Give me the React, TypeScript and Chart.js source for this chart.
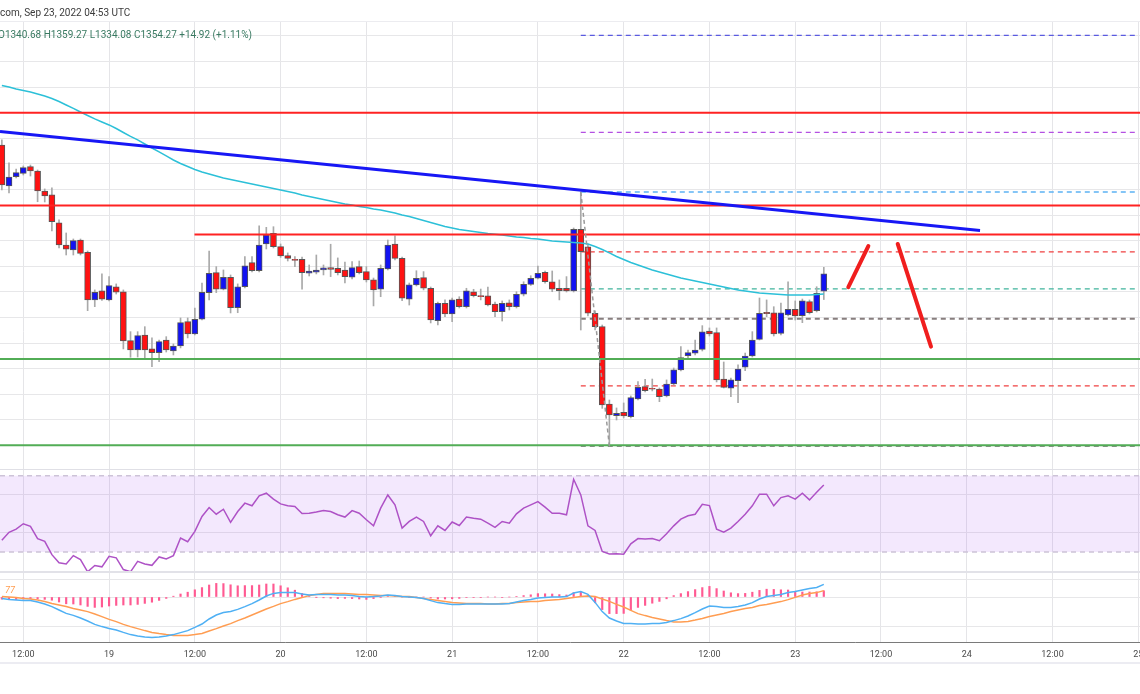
import React, { useEffect, useRef } from "react";
import { Chart, registerables } from "chart.js";

Chart.register(...registerables);

// Hours are counted from Sep 18 2022 00:00 UTC; 1h candles, first visible at 09:00
const FIRST_HOUR = 9;
const FIRST_DAY = 18;
const X_MIN = 8.74;
const X_MAX = 168.24;

const opens = [
  1454.8, 1422.8, 1430.1, 1432.7, 1437.9, 1434.5, 1418.9, 1415.8, 1394.1, 1376.7,
  1372.8, 1380.6, 1371.0, 1333.8, 1340.8, 1333.8, 1344.1, 1340.2, 1302.0, 1294.7,
  1306.4, 1295.5, 1292.6, 1302.5, 1293.9, 1297.8, 1316.8, 1307.2, 1318.7, 1339.5,
  1355.1, 1342.1, 1351.5, 1327.7, 1344.1, 1362.9, 1356.6, 1377.5, 1385.9, 1375.4,
  1368.4, 1365.5, 1365.5, 1354.6, 1355.4, 1357.2, 1359.0, 1358.5, 1357.2, 1351.5,
  1359.8, 1355.9, 1349.4, 1342.1, 1358.0, 1377.5, 1366.3, 1334.3, 1345.5, 1351.2,
  1342.9, 1317.6, 1331.2, 1322.8, 1334.5, 1328.5, 1340.2, 1337.1, 1336.9, 1330.6,
  1324.6, 1331.6, 1328.5, 1338.2, 1346.0, 1350.7, 1355.4, 1348.0, 1342.9, 1342.9,
  1340.8, 1389.0, 1375.2, 1323.4, 1312.9, 1252.5, 1243.4, 1246.0, 1242.6, 1256.4,
  1266.0, 1264.8, 1264.2, 1258.8, 1268.1, 1279.1, 1290.2, 1292.1, 1295.2, 1309.5,
  1308.2, 1272.0, 1264.8, 1270.7, 1281.2, 1290.0, 1303.0, 1324.1, 1323.8, 1307.7,
  1322.0, 1326.5, 1321.5, 1332.4, 1325.4, 1340.68,
];
const highs = [
  1458.8, 1440.8, 1436.1, 1438.4, 1439.2, 1435.3, 1420.5, 1421.3, 1396.3, 1386.1,
  1381.4, 1381.4, 1372.0, 1341.6, 1354.1, 1352.0, 1346.3, 1341.6, 1309.0, 1309.0,
  1312.9, 1304.1, 1302.5, 1305.1, 1299.4, 1319.7, 1319.7, 1327.5, 1347.0, 1372.0,
  1359.8, 1357.2, 1353.3, 1346.3, 1367.6, 1367.6, 1391.6, 1390.5, 1391.0, 1377.5,
  1370.5, 1367.6, 1367.3, 1361.1, 1368.9, 1361.1, 1377.3, 1366.6, 1363.4, 1363.7,
  1364.2, 1359.8, 1350.9, 1361.1, 1380.6, 1383.8, 1367.3, 1347.0, 1356.6, 1355.9,
  1343.9, 1332.2, 1333.8, 1335.3, 1336.3, 1342.9, 1342.1, 1342.3, 1343.9, 1332.2,
  1333.0, 1333.8, 1340.2, 1348.0, 1352.7, 1360.3, 1356.4, 1356.4, 1349.4, 1352.0,
  1390.0, 1418.1, 1377.5, 1325.2, 1314.2, 1255.6, 1249.4, 1253.3, 1258.8, 1269.9,
  1271.8, 1272.0, 1265.0, 1271.3, 1280.6, 1297.3, 1294.7, 1302.5, 1313.7, 1311.9,
  1311.9, 1285.3, 1272.8, 1283.0, 1292.3, 1309.0, 1335.3, 1333.8, 1328.5, 1331.4,
  1348.0, 1333.0, 1334.5, 1333.8, 1344.1, 1359.27,
];
const lows = [
  1419.7, 1417.3, 1429.1, 1431.4, 1430.6, 1410.5, 1410.3, 1387.7, 1374.4, 1368.9,
  1368.9, 1368.9, 1325.4, 1328.5, 1333.4, 1333.0, 1338.4, 1295.5, 1289.0, 1289.2,
  1287.4, 1281.6, 1285.5, 1293.1, 1290.8, 1296.3, 1304.1, 1306.4, 1318.1, 1333.8,
  1339.5, 1341.6, 1323.6, 1323.8, 1343.1, 1355.6, 1355.6, 1373.6, 1374.4, 1367.0,
  1364.2, 1359.8, 1342.1, 1352.5, 1354.1, 1353.3, 1352.0, 1353.3, 1347.0, 1350.2,
  1354.1, 1347.8, 1329.1, 1336.3, 1357.2, 1365.0, 1333.2, 1329.8, 1344.7, 1341.6,
  1315.8, 1314.2, 1320.7, 1316.8, 1327.5, 1327.5, 1336.1, 1333.8, 1329.1, 1320.7,
  1317.3, 1325.9, 1327.5, 1336.9, 1345.1, 1350.2, 1346.8, 1340.2, 1333.8, 1340.0,
  1340.0, 1310.3, 1321.3, 1310.3, 1249.1, 1219.7, 1240.0, 1241.6, 1241.6, 1255.6,
  1261.9, 1262.7, 1254.3, 1258.0, 1267.3, 1278.3, 1288.4, 1290.8, 1293.9, 1305.6,
  1269.7, 1265.0, 1258.2, 1253.5, 1278.5, 1289.2, 1302.5, 1320.7, 1305.6, 1306.4,
  1321.3, 1318.1, 1316.0, 1322.8, 1324.4, 1334.08,
];
const closes = [
  1423.6, 1429.8, 1433.2, 1437.1, 1434.5, 1418.9, 1415.0, 1394.9, 1376.7, 1373.4,
  1380.1, 1370.2, 1333.8, 1339.8, 1334.3, 1344.9, 1339.8, 1301.7, 1294.7, 1305.9,
  1294.7, 1292.6, 1301.2, 1294.7, 1297.8, 1316.0, 1307.2, 1318.7, 1339.8, 1354.6,
  1342.1, 1351.5, 1327.7, 1344.1, 1360.5, 1356.6, 1376.7, 1384.5, 1375.4, 1368.1,
  1366.3, 1364.6, 1355.1, 1356.4, 1357.2, 1358.8, 1357.7, 1355.1, 1352.0, 1359.0,
  1355.1, 1349.4, 1341.6, 1358.5, 1376.7, 1366.3, 1335.1, 1345.5, 1350.7, 1342.9,
  1318.1, 1331.2, 1322.8, 1333.8, 1328.5, 1340.8, 1337.1, 1336.3, 1329.8, 1324.6,
  1331.2, 1328.5, 1338.2, 1346.0, 1350.7, 1354.6, 1348.0, 1342.1, 1341.0, 1340.8,
  1389.0, 1371.5, 1323.4, 1312.9, 1251.7, 1243.9, 1245.2, 1243.1, 1257.4, 1265.5,
  1262.9, 1264.0, 1258.2, 1268.1, 1279.1, 1288.7, 1292.6, 1294.7, 1308.8, 1307.2,
  1271.3, 1265.5, 1271.3, 1279.8, 1290.0, 1302.5, 1323.4, 1323.0, 1307.2, 1323.8,
  1326.5, 1321.3, 1333.0, 1323.8, 1339.0, 1354.27,
];
const movingAverage = [
  1501.3, 1500.2, 1498.6, 1497.4, 1496.3, 1494.7, 1493.1, 1491.2, 1488.8, 1486.1,
  1483.4, 1480.6, 1477.9, 1475.2, 1472.8, 1470.5, 1467.7, 1464.6, 1461.5, 1458.8,
  1455.6, 1452.5, 1449.4, 1446.3, 1443.1, 1440.4, 1438.0, 1435.7, 1433.8, 1432.2,
  1430.6, 1429.1, 1427.9, 1426.7, 1425.5, 1424.4, 1423.2, 1422.0, 1420.9, 1419.7,
  1418.5, 1417.3, 1415.8, 1414.6, 1413.4, 1412.3, 1411.1, 1409.9, 1408.8, 1408.0,
  1406.8, 1406.0, 1404.8, 1404.1, 1402.9, 1401.7, 1400.2, 1399.0, 1397.4, 1395.9,
  1394.3, 1392.7, 1391.2, 1390.0, 1388.8, 1388.0, 1387.3, 1386.5, 1385.7, 1385.1,
  1384.5, 1383.8, 1383.0, 1382.6, 1381.8, 1381.4, 1380.6, 1379.8, 1379.5, 1379.1,
  1378.7, 1378.3, 1377.5, 1375.5, 1373.2, 1370.5, 1367.7, 1365.4, 1363.0, 1361.1,
  1359.1, 1357.2, 1355.6, 1354.1, 1352.5, 1350.9, 1349.8, 1348.6, 1347.4, 1346.3,
  1345.1, 1343.9, 1342.7, 1341.6, 1340.8, 1340.0, 1339.2, 1338.8, 1338.4, 1338.0,
  1337.7, 1337.7, 1337.7, 1337.7, 1338.0, 1338.4,
];
const rsiValues = [
  36.1, 40.3, 42.0, 44.8, 43.4, 37.0, 35.6, 28.6, 24.3, 23.7,
  28.1, 26.0, 19.6, 22.9, 22.2, 27.7, 26.9, 20.8, 19.6, 25.1,
  23.7, 23.0, 27.4, 26.3, 28.1, 37.3, 35.4, 40.8, 48.6, 53.3,
  49.8, 52.4, 45.5, 51.2, 55.6, 54.2, 59.4, 60.8, 57.7, 55.2,
  54.2, 53.8, 50.2, 50.3, 50.9, 51.7, 51.2, 49.5, 48.3, 51.7,
  50.3, 46.9, 43.7, 53.0, 59.9, 54.7, 42.5, 46.0, 48.3, 46.0,
  38.5, 43.7, 41.3, 45.7, 43.9, 48.3, 47.7, 47.2, 45.1, 42.9,
  46.0, 45.1, 50.0, 53.0, 54.7, 56.4, 53.5, 50.3, 50.3, 49.5,
  68.1, 59.9, 43.7, 41.3, 30.3, 29.0, 29.1, 28.8, 34.3, 37.0,
  36.8, 37.0, 35.9, 39.6, 43.7, 47.2, 49.0, 49.8, 55.0, 54.3,
  42.0, 40.4, 42.5, 46.0, 49.8, 54.2, 60.3, 60.3, 54.2, 58.5,
  59.4, 57.7, 60.8, 57.3, 61.3, 65.1,
];
const macdLine = [
  -0.8, -1.3, -1.5, -1.7, -1.8, -2.5, -3.5, -4.8, -6.5, -8.2,
  -9.2, -10.5, -12.0, -13.7, -14.8, -15.7, -16.5, -17.7, -18.8, -19.5,
  -20.0, -20.3, -20.0, -19.5, -18.8, -17.8, -16.8, -15.2, -13.5, -11.0,
  -9.0, -7.8, -7.2, -6.2, -4.8, -3.3, -1.5, 0.5, 1.8, 2.3,
  2.3, 2.2, 1.5, 1.0, 1.2, 1.3, 1.2, 1.0, 1.0, 0.7,
  0.3, 0.0, 0.2, 0.5, 1.0, 0.8, 0.3, 0.0, -0.3, -0.8,
  -1.8, -2.8, -3.3, -3.7, -3.7, -3.5, -3.5, -3.5, -3.5, -3.5,
  -3.5, -3.2, -2.5, -1.8, -1.2, -0.5, -0.2, 0.0, 0.0, 0.2,
  2.0, 2.7, 1.3, -2.7, -7.3, -10.5, -12.0, -13.2, -13.3, -13.5,
  -13.5, -13.3, -13.2, -12.7, -11.8, -10.8, -9.5, -7.8, -6.0, -4.5,
  -4.8, -5.2, -5.2, -4.8, -4.0, -2.8, -1.0, 0.2, 0.8, 1.3,
  2.2, 2.7, 3.5, 4.2, 4.8, 6.3,
];
const signalLine = [
  0.3, 0.0, -0.3, -0.7, -1.0, -1.5, -2.3, -3.2, -4.0, -4.8,
  -5.7, -6.5, -7.3, -8.5, -9.8, -11.2, -12.3, -13.7, -14.8, -15.8,
  -16.8, -17.7, -18.3, -18.8, -19.2, -19.3, -19.2, -18.8, -18.2, -17.0,
  -15.8, -14.5, -13.3, -11.8, -10.5, -9.0, -7.5, -6.0, -4.7, -3.3,
  -2.3, -1.2, -0.3, 0.7, 1.3, 1.7, 1.8, 1.8, 1.7, 1.5,
  1.3, 1.2, 1.0, 0.8, 0.7, 0.5, 0.3, 0.2, -0.3, -0.8,
  -1.3, -1.8, -2.3, -2.8, -3.0, -3.2, -3.2, -3.3, -3.5, -3.5,
  -3.3, -3.2, -2.8, -2.5, -2.3, -2.2, -1.8, -1.5, -1.2, -0.8,
  -0.2, 0.3, 0.5, 0.2, -1.0, -2.2, -3.7, -5.0, -6.7, -8.3,
  -9.3, -10.2, -11.0, -11.8, -12.5, -12.5, -12.2, -11.5, -10.7, -9.8,
  -9.0, -8.2, -7.3, -6.5, -5.8, -5.2, -4.3, -3.7, -3.0, -2.3,
  -1.3, -0.2, 1.0, 1.7, 2.2, 3.2,
];

// Axis ticks / gridlines
const xTickHours = [12, 24, 36, 48, 60, 72, 84, 96, 108, 120, 132, 144, 156, 168];
const priceGrid = [1220, 1240, 1260, 1280, 1300, 1320, 1340, 1360, 1380, 1400, 1420, 1440, 1460, 1480, 1500, 1520, 1540];
const rsiGrid = [40, 60];
const macdGrid = [-14.5, 0, 9];
const RSI_UPPER = 70;
const RSI_LOWER = 30;

// Drawings
const redLevelPrices = [1480, 1407.5, 1385];
const redLevelStarts = [X_MIN, X_MIN, 35.95];
const greenLevelPrices = [1287.6, 1220.3];
const fibPrices = [1540.4, 1464.7, 1418.1, 1371.3, 1342.4, 1319.0, 1266.7, 1219.7];
const fibRange = [90, 167.55];
const fibDiagX = [90, 94];
const fibDiagY = [1418.1, 1219.7];
const trendX = [X_MIN, 145.86];
const trendY = [1465.4, 1388.0];
const arrowUpX = [127.43, 130.23];
const arrowUpY = [1343.7, 1375.9];
const arrowDownX = [134.34, 139.0];
const arrowDownY = [1377.5, 1297.3];

const fibStyles = [
  { color: "#5a5ae0", width: 1.3, dash: [5, 4] },
  { color: "#b450e2", width: 1.3, dash: [5, 4] },
  { color: "#5cb2f4", width: 1.3, dash: [5, 4] },
  { color: "#f04040", width: 1.3, dash: [5, 4] },
  { color: "#3fb49c", width: 1.3, dash: [5, 4] },
  { color: "#877e7e", width: 2, dash: [5, 4] },
  { color: "#f04040", width: 1.3, dash: [5, 4] },
  { color: "#8c8c8c", width: 2, dash: [5, 4] },
];

const UP = "#1212f2";
const DOWN = "#ff1212";

const panePlugin = {
  id: "panes",
  beforeDatasetsDraw(chart: any) {
    const { ctx, chartArea } = chart;
    const r = chart.scales.yRsi;
    const top = r.getPixelForValue(RSI_UPPER);
    const bot = r.getPixelForValue(RSI_LOWER);
    ctx.save();
    ctx.fillStyle = "rgba(165, 80, 240, 0.13)";
    ctx.fillRect(chartArea.left, top, chartArea.right - chartArea.left, bot - top);
    ctx.setLineDash([5, 4]);
    ctx.strokeStyle = "#cdc3d8";
    ctx.lineWidth = 1.5;
    [top, bot].forEach((y) => {
      ctx.beginPath();
      ctx.moveTo(chartArea.left, y);
      ctx.lineTo(chartArea.right, y);
      ctx.stroke();
    });
    ctx.restore();
  },
  afterDraw(chart: any) {
    const { ctx, chartArea } = chart;
    const main = chart.scales.y;
    const rsi = chart.scales.yRsi;
    const xs = chart.scales.x;
    ctx.save();
    const line = (y: number, color: string, w: number) => {
      ctx.strokeStyle = color;
      ctx.lineWidth = w;
      ctx.beginPath();
      ctx.moveTo(0, y);
      ctx.lineTo(chart.width, y);
      ctx.stroke();
    };
    line(chartArea.top + 0.5, "#ececf0", 1);
    line(main.bottom + 0.5, "#e0e0e6", 1);
    line(rsi.bottom, "#e2e2e8", 2);
    line(xs.top + 21, "#ececf2", 2);
    ctx.restore();
  },
};

export default function App() {
  const ref = useRef<HTMLCanvasElement>(null);

  useEffect(() => {
    const canvas = ref.current;
    if (!canvas) return;
    const hours = opens.map((_, i) => FIRST_HOUR + i);
    const pts = (vals: number[]) => vals.map((v, i) => ({ x: hours[i], y: v }));
    const seg = (xsArr: number[], ysArr: number[]) => xsArr.map((x, i) => ({ x, y: ysArr[i] }));
    const hist = macdLine.map((v, i) => +(v - signalLine[i]).toFixed(2));
    const candleColors = hours.map((_, i) => (closes[i] >= opens[i] ? UP : DOWN));

    const lineBase = {
      type: "line",
      pointRadius: 0,
      pointHoverRadius: 0,
      tension: 0,
      fill: false,
    };

    const datasets: any[] = [];

    fibPrices.forEach((p, i) => {
      datasets.push({
        ...lineBase,
        yAxisID: "y",
        data: seg(fibRange, [p, p]),
        borderColor: fibStyles[i].color,
        borderWidth: fibStyles[i].width,
        borderDash: fibStyles[i].dash,
        order: 30,
      });
    });
    redLevelPrices.forEach((p, i) => {
      datasets.push({
        ...lineBase,
        yAxisID: "y",
        data: seg([redLevelStarts[i], X_MAX], [p, p]),
        borderColor: "#ff2222",
        borderWidth: 2,
        order: 12,
      });
    });
    greenLevelPrices.forEach((p) => {
      datasets.push({
        ...lineBase,
        yAxisID: "y",
        data: seg([X_MIN, X_MAX], [p, p]),
        borderColor: "#52ad56",
        borderWidth: 2,
        order: 12,
      });
    });
    datasets.push({
      type: "bar",
      yAxisID: "y",
      data: hours.map((h, i) => ({ x: h, y: [lows[i], highs[i]] })),
      backgroundColor: "#a9a9a9",
      borderWidth: 0,
      barThickness: 1,
      grouped: false,
      order: 22,
    });
    datasets.push({
      type: "bar",
      yAxisID: "y",
      data: hours.map((h, i) => ({ x: h, y: [opens[i], closes[i]] })),
      backgroundColor: candleColors,
      borderColor: "#565656",
      borderWidth: 1,
      borderSkipped: false,
      barThickness: 6,
      grouped: false,
      order: 21,
    });
    datasets.push({
      ...lineBase,
      yAxisID: "y",
      data: pts(movingAverage),
      borderColor: "#2cc0d8",
      borderWidth: 1.5,
      order: 15,
    });
    datasets.push({
      ...lineBase,
      yAxisID: "y",
      data: seg(trendX, trendY),
      borderColor: "#1717f5",
      borderWidth: 3,
      order: 10,
    });
    datasets.push({
      ...lineBase,
      yAxisID: "y",
      data: seg(fibDiagX, fibDiagY),
      borderColor: "#9a9a9a",
      borderWidth: 1.5,
      borderDash: [4, 3],
      order: 9,
    });
    [
      [arrowUpX, arrowUpY],
      [arrowDownX, arrowDownY],
    ].forEach(([ax, ay]) => {
      datasets.push({
        ...lineBase,
        yAxisID: "y",
        data: seg(ax, ay),
        borderColor: "#f01e1e",
        borderWidth: 4,
        borderCapStyle: "round",
        order: 8,
      });
    });
    datasets.push({
      ...lineBase,
      yAxisID: "yRsi",
      data: pts(rsiValues),
      borderColor: "#ae52c6",
      borderWidth: 1.5,
      order: 5,
    });
    datasets.push({
      type: "bar",
      yAxisID: "yMacd",
      data: hist.map((v, i) => ({ x: hours[i], y: v })),
      backgroundColor: "#ff5a92",
      borderWidth: 0,
      barThickness: 1.5,
      grouped: false,
      order: 7,
    });
    datasets.push({
      ...lineBase,
      yAxisID: "yMacd",
      data: pts(signalLine),
      borderColor: "#ff9d52",
      borderWidth: 1.5,
      order: 6,
    });
    datasets.push({
      ...lineBase,
      yAxisID: "yMacd",
      data: pts(macdLine),
      borderColor: "#4fb0f4",
      borderWidth: 1.5,
      order: 5,
    });

    const hiddenY = (weight: number, min: number, max: number, grid: number[]) => ({
      type: "linear",
      position: "left",
      stack: "panes",
      stackWeight: weight,
      min,
      max,
      border: { display: false },
      grid: { color: "#e7e7e9", drawTicks: false, lineWidth: 1 },
      ticks: { display: false },
      afterBuildTicks: (s: any) => {
        s.ticks = grid.map((v) => ({ value: v }));
      },
      afterFit: (s: any) => {
        s.width = 0;
      },
    });

    const chart = new Chart(canvas, {
      type: "line",
      data: { datasets },
      plugins: [panePlugin],
      options: {
        responsive: false,
        animation: false,
        devicePixelRatio: 1,
        events: [],
        layout: { padding: { top: 21, left: 0, right: 0, bottom: 0 } },
        plugins: { legend: { display: false }, tooltip: { enabled: false } },
        scales: {
          x: {
            type: "linear",
            min: X_MIN,
            max: X_MAX,
            offset: false,
            grid: { color: "#e5e5e8", drawTicks: false, offset: false },
            border: { display: true, color: "#7a7a7a", width: 1 },
            ticks: {
              autoSkip: false,
              maxRotation: 0,
              padding: 7,
              color: "#4a4a4a",
              font: { family: "Roboto", size: 9 },
              callback: (v: any) => (Number(v) % 24 === 0 ? String(FIRST_DAY + Number(v) / 24) : "12:00"),
            },
            afterBuildTicks: (s: any) => {
              s.ticks = xTickHours.map((v) => ({ value: v }));
            },
            afterFit: (s: any) => {
              s.height = 52;
              s.paddingLeft = 0;
              s.paddingRight = 0;
            },
          },
          // left-stacked scales are laid out in reverse order: last listed is on top
          yMacd: hiddenY(70, -22.5, 12.5, macdGrid),
          yRsi: hiddenY(103, 19.5, 73.5, rsiGrid),
          y: hiddenY(448, 1201.7, 1551.7, priceGrid),
        } as any,
      },
    } as any);
    return () => chart.destroy();
  }, []);

  return (
    <div style={{ position: "fixed", left: 0, top: 0, width: 1140, height: 694, background: "#fff", overflow: "hidden" }}>
      <canvas ref={ref} width={1140} height={694} style={{ display: "block" }} />
      <div
        style={{
          position: "absolute",
          left: 0,
          top: 6,
          font: "10px Roboto, sans-serif",
          lineHeight: "13px",
          color: "#3b3b3b",
          whiteSpace: "nowrap",
        }}
      >
        com, Sep 23, 2022 04:53 UTC
      </div>
      <div
        style={{
          position: "absolute",
          left: -2,
          top: 28,
          font: "10px Roboto, sans-serif",
          lineHeight: "13px",
          color: "#3a7a62",
          whiteSpace: "nowrap",
        }}
      >
        O1340.68 H1359.27 L1334.08 C1354.27 +14.92 (+1.11%)
      </div>
      <div
        style={{
          position: "absolute",
          left: 5,
          top: 585,
          font: "italic 9px Roboto, sans-serif",
          lineHeight: "10px",
          color: "#ff9d52",
          whiteSpace: "nowrap",
        }}
      >
        77
      </div>
    </div>
  );
}
